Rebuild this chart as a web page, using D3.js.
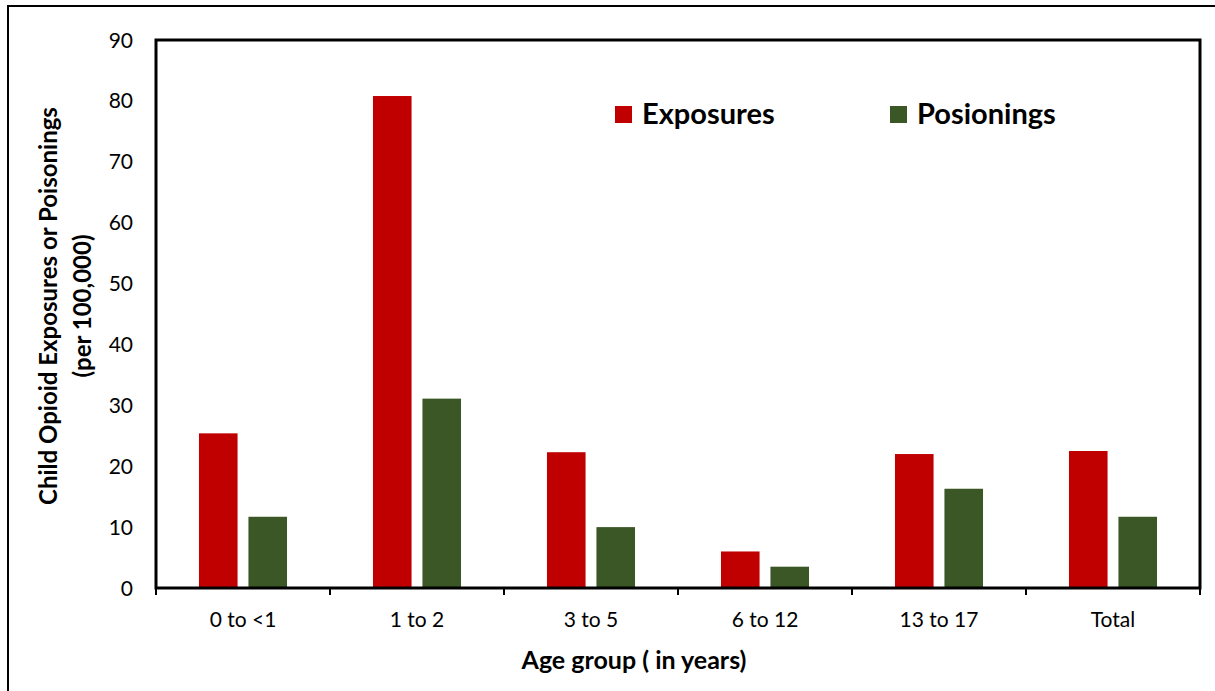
<!DOCTYPE html>
<html>
<head>
<meta charset="utf-8">
<title>Child Opioid Exposures</title>
<script src="https://d3js.org/d3.v7.min.js"></script>
<style>
  body { margin: 0; background: #fff; }
  text { font-family: Lato, "Open Sans", sans-serif; fill: #000; }
</style>
</head>
<body>
<div id="chart"></div>
<script>
// data
var categories = ["0 to <1", "1 to 2", "3 to 5", "6 to 12", "13 to 17", "Total"];
var seriesNames = ["Exposures", "Posionings"];
var exposures = [25.4, 80.8, 22.3, 6.0, 22.0, 22.5];
var poisonings = [11.7, 31.1, 10.0, 3.5, 16.3, 11.7];
var yTicks = [0, 10, 20, 30, 40, 50, 60, 70, 80, 90];
var colors = ["#c00000", "#3b5726"];

var W = 1215, H = 691;
var pLeft = 156, pRight = 1200, pTop = 40, pBottom = 588;

var svg = d3.select("#chart").append("svg")
    .attr("width", W).attr("height", H);

// outer frame (only left/top edges fall inside the picture)
svg.append("rect")
    .attr("x", 8).attr("y", 6)
    .attr("width", W + 20).attr("height", H + 20)
    .attr("fill", "none").attr("stroke", "#000").attr("stroke-width", 2);

var x0 = d3.scaleBand().domain(categories).range([pLeft, pRight]).padding(0);
var x1 = d3.scaleBand().domain(seriesNames)
    .range([x0.bandwidth() * 0.247, x0.bandwidth() * 0.753])
    .paddingInner(0.22);
var y = d3.scaleLinear().domain([0, 90]).range([pBottom, pTop]);

var rows = categories.map(function(c, i) {
  return { cat: c, values: [exposures[i], poisonings[i]] };
});

var groups = svg.selectAll("g.grp").data(rows).enter().append("g")
    .attr("class", "grp")
    .attr("transform", function(d) { return "translate(" + x0(d.cat) + ",0)"; });

groups.selectAll("rect").data(function(d) {
    return d.values.map(function(v, j) { return { s: seriesNames[j], v: v, j: j }; });
  }).enter().append("rect")
    .attr("x", function(d) { return x1(d.s); })
    .attr("width", x1.bandwidth())
    .attr("y", function(d) { return y(d.v); })
    .attr("height", function(d) { return pBottom - y(d.v); })
    .attr("fill", function(d) { return colors[d.j]; });

// y axis labels
svg.append("g").selectAll("text").data(yTicks).enter().append("text")
    .attr("x", 133)
    .attr("y", function(d) { return y(d); })
    .attr("dy", "0.36em")
    .attr("text-anchor", "end")
    .style("font-size", "21px")
    .text(function(d) { return d; });

// x ticks
var tickPos = categories.map(function(c) { return x0(c); }).concat([pRight]);
svg.append("g").selectAll("line").data(tickPos).enter().append("line")
    .attr("x1", function(d) { return d; }).attr("x2", function(d) { return d; })
    .attr("y1", pBottom).attr("y2", pBottom + 7)
    .attr("stroke", "#000").attr("stroke-width", 2);

// x labels
svg.append("g").selectAll("text").data(categories).enter().append("text")
    .attr("x", function(d) { return x0(d) + x0.bandwidth() / 2; })
    .attr("y", 627)
    .attr("text-anchor", "middle")
    .style("font-size", "21px")
    .text(function(d) { return d; });

// plot frame
svg.append("rect")
    .attr("x", pLeft).attr("y", pTop)
    .attr("width", pRight - pLeft).attr("height", pBottom - pTop)
    .attr("fill", "none").attr("stroke", "#000").attr("stroke-width", 3);

// axis titles
svg.append("text")
    .attr("x", 634).attr("y", 669)
    .attr("text-anchor", "middle")
    .style("font-size", "25px").style("font-weight", "bold")
    .text("Age group ( in years)");

var yt = svg.append("text")
    .attr("transform", "translate(57,306) rotate(-90)")
    .attr("text-anchor", "middle")
    .style("font-size", "24px").style("font-weight", "bold");
yt.append("tspan").attr("x", 0).attr("dy", 0).text("Child Opioid Exposures or Poisonings");
yt.append("tspan").attr("x", 0).attr("dy", 34).text("(per 100,000)");

// legend
var legX = [615, 890];
var leg = svg.append("g").selectAll("g").data(seriesNames).enter().append("g")
    .attr("transform", function(d, i) { return "translate(" + legX[i] + ",106)"; });
leg.append("rect").attr("width", 17).attr("height", 17)
    .attr("fill", function(d, i) { return colors[i]; });
leg.append("text").attr("x", 27).attr("y", 18)
    .style("font-size", "29px").style("font-weight", "bold")
    .text(function(d) { return d; });
</script>
</body>
</html>
